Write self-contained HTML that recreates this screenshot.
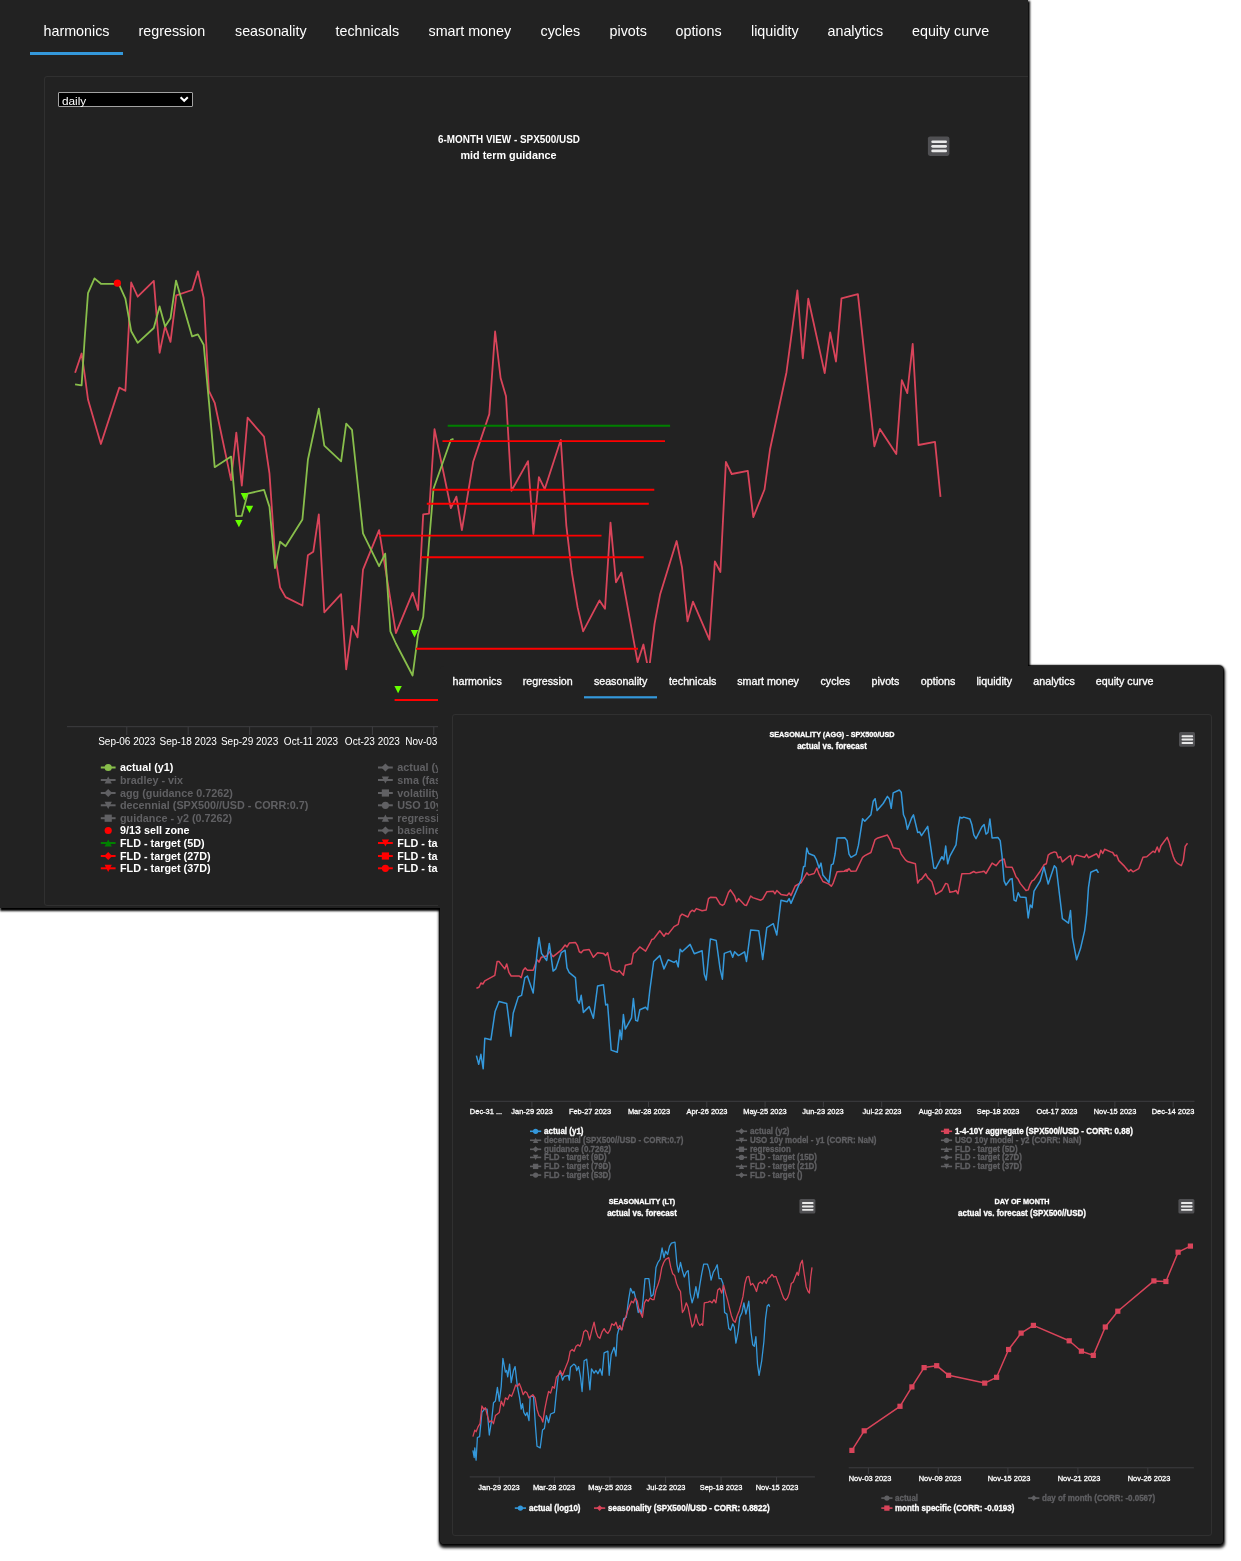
<!DOCTYPE html>
<html lang="en"><head><meta charset="utf-8"><title>seasonality dashboard</title>
<style>
html,body{margin:0;padding:0;background:#fff;}
body{width:1241px;height:1561px;position:relative;overflow:hidden;font-family:"Liberation Sans",Arial,sans-serif;}
.panel{position:absolute;overflow:hidden;background:#222;}
.sh{position:absolute;background:#222;}
.inner{position:absolute;border:1px solid #303030;border-radius:3px;box-sizing:border-box;}
.layer{position:absolute;left:0;top:0;width:1241px;height:1561px;}
.t{position:absolute;white-space:nowrap;}
svg{position:absolute;left:0;top:0;}
#A,#sA{left:0px;top:0px;width:1028px;height:907.5px;}
#sA{box-shadow:0.8px 2px 2px 1px #000;}
#B,#sB{left:440px;top:666px;width:783px;height:878px;border-radius:4px;}
#sB{box-shadow:0.3px 2.5px 3px 0.8px rgba(0,0,0,.92),0 0 1.5px 1px #000;}
#cov{position:absolute;left:438px;top:662.5px;width:590px;height:245px;background:#222;}
#B .layer{left:-440px;top:-666px;}
#B .t{-webkit-text-stroke:0.3px currentColor;}
.sel{position:absolute;left:58px;top:92px;width:135px;height:15px;box-sizing:border-box;background:#000;border:1px solid #a2a2a2;border-radius:1px;}
</style></head><body>
<div class="sh" id="sA"></div><div class="sh" id="sB"></div>
<div class="panel" id="A"><div class="layer">
<div class="inner" style="left:44px;top:76px;width:1000px;height:830px;"></div>
<div class="sel"></div>
<svg width="1241" height="1561" viewBox="0 0 1241 1561">
<rect x="30" y="52" width="93" height="3" fill="#3498db"/>
<path d="M180.6 97.2l3.6 3.6l3.6-3.6" fill="none" stroke="#fff" stroke-width="2"/>
<rect x="927.9" y="136.4" width="21.5" height="19.5" rx="2.15" fill="#505053"/><path d="M932.61 141.80H945.68" stroke="#e9e9e9" stroke-width="2.63" stroke-linecap="round"/><path d="M932.61 146.34H945.68" stroke="#e9e9e9" stroke-width="2.63" stroke-linecap="round"/><path d="M932.61 150.91H945.68" stroke="#e9e9e9" stroke-width="2.63" stroke-linecap="round"/>
<polyline points="75.1,372.8 81.6,353.5 84.8,375.4 88.0,399.5 100.9,444.0 119.3,387.6 125.4,390.8 131.2,282.5 137.7,296.7 153.8,280.9 159.6,352.8 165.1,326.4 170.5,341.9 176.3,295.4 192.1,290.0 197.9,271.3 203.7,298.0 208.9,390.8 214.7,402.8 231.1,480.1 236.3,432.7 241.8,485.6 247.6,417.6 264.0,436.6 269.5,473.7 275.0,554.3 280.1,587.5 285.6,597.1 302.4,605.5 307.9,555.2 313.3,551.7 318.8,514.3 324.3,612.3 341.1,594.2 346.2,669.3 352.0,625.8 357.5,637.4 363.0,569.7 379.1,530.1 395.9,633.2 412.6,592.9 418.1,610.0 423.2,514.3 429.0,513.7 434.5,429.2 450.9,508.2 456.4,496.6 461.9,530.1 473.2,461.8 489.3,414.1 495.1,331.5 500.6,378.0 506.0,396.3 511.5,490.8 528.0,461.1 533.4,534.0 538.9,477.2 544.7,489.2 560.8,439.8 566.3,525.3 571.8,572.0 577.6,607.4 583.1,631.3 599.5,600.4 605.0,608.7 610.5,522.7 616.0,582.3 621.4,572.6 637.6,662.2 643.4,644.5 648.8,671.9 654.6,623.6 660.1,594.6 676.6,541.0 682.0,567.2 687.5,621.3 693.0,601.6 709.4,639.7 714.9,561.4 720.4,572.0 725.9,461.8 731.7,474.0 747.8,470.8 753.3,517.2 764.5,489.5 770.0,449.5 786.5,372.2 797.4,290.3 802.8,358.3 808.3,298.7 824.7,373.1 830.2,332.5 836.0,361.5 841.5,298.3 857.9,294.1 874.4,446.3 879.9,428.9 896.3,454.0 901.8,380.2 907.3,393.1 912.7,343.8 918.5,445.0 935.0,441.8 940.5,496.9" fill="none" stroke="#d9445a" stroke-width="1.8" stroke-linejoin="round"/>
<polyline points="75.1,384.4 81.6,385.4 84.8,336.7 88.0,293.2 94.5,278.4 100.9,283.8 114.5,283.8 119.3,285.1 125.4,298.7 131.2,331.2 137.7,342.8 153.8,328.0 159.6,306.4 165.1,326.4 170.5,318.3 176.0,280.6 192.1,336.4 197.9,334.4 203.7,344.8 208.9,401.2 214.7,467.2 231.1,456.6 236.3,516.2 241.8,515.9 247.6,493.7 264.0,489.8 269.5,506.9 275.0,568.1 280.1,541.7 285.6,546.2 302.4,519.5 307.9,459.8 318.8,408.6 324.3,445.6 341.1,461.4 346.2,423.7 352.0,429.8 363.0,533.3 379.1,566.2 385.2,553.6 390.4,631.3 395.9,643.5 412.6,675.5 418.0,634.8 423.2,617.1 429.0,543.0 433.5,488.8 450.9,439.8 453.5,438.9" fill="none" stroke="#88be4b" stroke-width="1.8" stroke-linejoin="round"/>
<path d="M447.7 425.7H670.1" stroke="#008000" stroke-width="1.9"/>
<path d="M442.5 441.1H665" stroke="#ff0000" stroke-width="1.9"/>
<path d="M432.2 489.8H654.3" stroke="#ff0000" stroke-width="1.9"/>
<path d="M426.8 503.7H648.8" stroke="#ff0000" stroke-width="1.9"/>
<path d="M379 535.6H601.5" stroke="#ff0000" stroke-width="1.9"/>
<path d="M421.3 557.2H643.7" stroke="#ff0000" stroke-width="1.9"/>
<path d="M416 648.7H638" stroke="#ff0000" stroke-width="1.9"/>
<path d="M394.6 700H438" stroke="#ff0000" stroke-width="1.9"/>
<path d="M240.70000000000002 493.1L248.1 493.1L244.4 500.5Z" fill="#66ff00"/>
<path d="M245.8 505.7L253.2 505.7L249.5 513.1Z" fill="#66ff00"/>
<path d="M235.20000000000002 519.9L242.6 519.9L238.9 527.3000000000001Z" fill="#66ff00"/>
<path d="M410.8 630.0999999999999L418.2 630.0999999999999L414.5 637.5Z" fill="#66ff00"/>
<path d="M394.40000000000003 685.9L401.8 685.9L398.1 693.3000000000001Z" fill="#66ff00"/>
<circle cx="117.4" cy="283.2" r="3.6" fill="#ff0000"/>
<path d="M67 726.7H1010" stroke="#3e3e41" stroke-width="1"/>
<path d="M126.8 726.7V735" stroke="#3e3e41" stroke-width="1"/>
<path d="M188.2 726.7V735" stroke="#3e3e41" stroke-width="1"/>
<path d="M249.6 726.7V735" stroke="#3e3e41" stroke-width="1"/>
<path d="M311.0 726.7V735" stroke="#3e3e41" stroke-width="1"/>
<path d="M372.4 726.7V735" stroke="#3e3e41" stroke-width="1"/>
<path d="M433.8 726.7V735" stroke="#3e3e41" stroke-width="1"/>
<path d="M495.2 726.7V735" stroke="#3e3e41" stroke-width="1"/>
<path d="M100.8 767.5H115.6" stroke="#88be4b" stroke-width="2"/><circle cx="108.2" cy="767.5" r="3.6" fill="#88be4b"/>
<path d="M100.8 780H115.6" stroke="#606063" stroke-width="2"/><path d="M108.2 776.4L111.8 783.6L104.60000000000001 783.6Z" fill="#606063"/>
<path d="M100.8 793H115.6" stroke="#606063" stroke-width="2"/><path d="M108.2 788.968L112.232 793L108.2 797.032L104.168 793Z" fill="#606063"/>
<path d="M100.8 805.3H115.6" stroke="#606063" stroke-width="2"/><path d="M104.60000000000001 801.6999999999999L111.8 801.6999999999999L108.2 808.9Z" fill="#606063"/>
<path d="M100.8 818.2H115.6" stroke="#606063" stroke-width="2"/><rect x="104.60000000000001" y="814.6" width="7.2" height="7.2" fill="#606063"/>
<circle cx="108.2" cy="830.5" r="3.6" fill="#ff0000"/>
<path d="M100.8 843H115.6" stroke="#008000" stroke-width="2"/><path d="M108.2 839.4L111.8 846.6L104.60000000000001 846.6Z" fill="#008000"/>
<path d="M100.8 856H115.6" stroke="#ff0000" stroke-width="2"/><path d="M108.2 851.968L112.232 856L108.2 860.032L104.168 856Z" fill="#ff0000"/>
<path d="M100.8 868.3H115.6" stroke="#ff0000" stroke-width="2"/><path d="M104.60000000000001 864.6999999999999L111.8 864.6999999999999L108.2 871.9Z" fill="#ff0000"/>
<path d="M378 767.5H392.8" stroke="#606063" stroke-width="2"/><path d="M385.4 763.468L389.43199999999996 767.5L385.4 771.532L381.368 767.5Z" fill="#606063"/>
<path d="M378 780H392.8" stroke="#606063" stroke-width="2"/><path d="M381.79999999999995 776.4L389.0 776.4L385.4 783.6Z" fill="#606063"/>
<path d="M378 793H392.8" stroke="#606063" stroke-width="2"/><rect x="381.79999999999995" y="789.4" width="7.2" height="7.2" fill="#606063"/>
<path d="M378 805.3H392.8" stroke="#606063" stroke-width="2"/><circle cx="385.4" cy="805.3" r="3.6" fill="#606063"/>
<path d="M378 818.2H392.8" stroke="#606063" stroke-width="2"/><path d="M385.4 814.6L389.0 821.8000000000001L381.79999999999995 821.8000000000001Z" fill="#606063"/>
<path d="M378 830.5H392.8" stroke="#606063" stroke-width="2"/><path d="M385.4 826.468L389.43199999999996 830.5L385.4 834.532L381.368 830.5Z" fill="#606063"/>
<path d="M378 843H392.8" stroke="#ff0000" stroke-width="2"/><path d="M381.79999999999995 839.4L389.0 839.4L385.4 846.6Z" fill="#ff0000"/>
<path d="M378 856H392.8" stroke="#ff0000" stroke-width="2"/><rect x="381.79999999999995" y="852.4" width="7.2" height="7.2" fill="#ff0000"/>
<path d="M378 868.3H392.8" stroke="#ff0000" stroke-width="2"/><circle cx="385.4" cy="868.3" r="3.6" fill="#ff0000"/>
</svg>
<div class="t" style="left:43.5px;top:21.5px;line-height:19px;font-size:14.3px;color:#fff;">harmonics</div>
<div class="t" style="left:138.5px;top:21.5px;line-height:19px;font-size:14.3px;color:#fff;">regression</div>
<div class="t" style="left:235px;top:21.5px;line-height:19px;font-size:14.3px;color:#fff;">seasonality</div>
<div class="t" style="left:335.5px;top:21.5px;line-height:19px;font-size:14.3px;color:#fff;">technicals</div>
<div class="t" style="left:428.5px;top:21.5px;line-height:19px;font-size:14.3px;color:#fff;">smart money</div>
<div class="t" style="left:540.5px;top:21.5px;line-height:19px;font-size:14.3px;color:#fff;">cycles</div>
<div class="t" style="left:609.5px;top:21.5px;line-height:19px;font-size:14.3px;color:#fff;">pivots</div>
<div class="t" style="left:675.5px;top:21.5px;line-height:19px;font-size:14.3px;color:#fff;">options</div>
<div class="t" style="left:751px;top:21.5px;line-height:19px;font-size:14.3px;color:#fff;">liquidity</div>
<div class="t" style="left:827.5px;top:21.5px;line-height:19px;font-size:14.3px;color:#fff;">analytics</div>
<div class="t" style="left:912px;top:21.5px;line-height:19px;font-size:14.3px;color:#fff;">equity curve</div>
<div class="t" style="left:62px;top:92.5px;line-height:16px;font-size:11.8px;color:#fff;">daily</div>
<div class="t" style="left:508.5px;top:132.0px;line-height:15px;font-size:10.65px;color:#fff;font-weight:bold;transform:translateX(-50%) scaleX(0.93);">6-MONTH VIEW - SPX500/USD</div>
<div class="t" style="left:508.5px;top:148.0px;line-height:15px;font-size:10.8px;color:#fff;font-weight:bold;transform:translateX(-50%);">mid term guidance</div>
<div class="t" style="left:126.8px;top:734.5px;line-height:14px;font-size:10.0px;color:#fff;transform:translateX(-50%);">Sep-06 2023</div>
<div class="t" style="left:188.2px;top:734.5px;line-height:14px;font-size:10.0px;color:#fff;transform:translateX(-50%);">Sep-18 2023</div>
<div class="t" style="left:249.6px;top:734.5px;line-height:14px;font-size:10.0px;color:#fff;transform:translateX(-50%);">Sep-29 2023</div>
<div class="t" style="left:311.0px;top:734.5px;line-height:14px;font-size:10.0px;color:#fff;transform:translateX(-50%);">Oct-11 2023</div>
<div class="t" style="left:372.4px;top:734.5px;line-height:14px;font-size:10.0px;color:#fff;transform:translateX(-50%);">Oct-23 2023</div>
<div class="t" style="left:433.8px;top:734.5px;line-height:14px;font-size:10.0px;color:#fff;transform:translateX(-50%);">Nov-03 2023</div>
<div class="t" style="left:495.2px;top:734.5px;line-height:14px;font-size:10.0px;color:#fff;transform:translateX(-50%);">Nov-15 2023</div>
<div class="t" style="left:120px;top:760.0px;line-height:15px;font-size:10.8px;color:#fff;font-weight:bold;">actual (y1)</div>
<div class="t" style="left:120px;top:772.5px;line-height:15px;font-size:10.8px;color:#606063;font-weight:bold;">bradley - vix</div>
<div class="t" style="left:120px;top:785.5px;line-height:15px;font-size:10.8px;color:#606063;font-weight:bold;">agg (guidance 0.7262)</div>
<div class="t" style="left:120px;top:797.8px;line-height:15px;font-size:10.8px;color:#606063;font-weight:bold;">decennial (SPX500//USD - CORR:0.7)</div>
<div class="t" style="left:120px;top:810.7px;line-height:15px;font-size:10.8px;color:#606063;font-weight:bold;">guidance - y2 (0.7262)</div>
<div class="t" style="left:120px;top:823.0px;line-height:15px;font-size:10.8px;color:#fff;font-weight:bold;">9/13 sell zone</div>
<div class="t" style="left:120px;top:835.5px;line-height:15px;font-size:10.8px;color:#fff;font-weight:bold;">FLD - target (5D)</div>
<div class="t" style="left:120px;top:848.5px;line-height:15px;font-size:10.8px;color:#fff;font-weight:bold;">FLD - target (27D)</div>
<div class="t" style="left:120px;top:860.8px;line-height:15px;font-size:10.8px;color:#fff;font-weight:bold;">FLD - target (37D)</div>
<div class="t" style="left:397.3px;top:760.0px;line-height:15px;font-size:10.8px;color:#606063;font-weight:bold;">actual (y2)</div>
<div class="t" style="left:397.3px;top:772.5px;line-height:15px;font-size:10.8px;color:#606063;font-weight:bold;">sma (fast)</div>
<div class="t" style="left:397.3px;top:785.5px;line-height:15px;font-size:10.8px;color:#606063;font-weight:bold;">volatility</div>
<div class="t" style="left:397.3px;top:797.8px;line-height:15px;font-size:10.8px;color:#606063;font-weight:bold;">USO 10y model</div>
<div class="t" style="left:397.3px;top:810.7px;line-height:15px;font-size:10.8px;color:#606063;font-weight:bold;">regression</div>
<div class="t" style="left:397.3px;top:823.0px;line-height:15px;font-size:10.8px;color:#606063;font-weight:bold;">baseline</div>
<div class="t" style="left:397.3px;top:835.5px;line-height:15px;font-size:10.8px;color:#fff;font-weight:bold;">FLD - target (9D)</div>
<div class="t" style="left:397.3px;top:848.5px;line-height:15px;font-size:10.8px;color:#fff;font-weight:bold;">FLD - target (15D)</div>
<div class="t" style="left:397.3px;top:860.8px;line-height:15px;font-size:10.8px;color:#fff;font-weight:bold;">FLD - target (21D)</div>
</div></div>
<div id="cov"></div>
<div class="panel" id="B"><div class="layer">
<div class="inner" style="left:452px;top:714px;width:760px;height:822px;"></div>
<svg width="1241" height="1561" viewBox="0 0 1241 1561">
<rect x="584" y="696.2" width="73" height="2.2" fill="#3498db"/>
<rect x="1179" y="732.1" width="16" height="14.6" rx="1.61" fill="#505053"/><path d="M1182.51 736.14H1192.22" stroke="#e9e9e9" stroke-width="1.97" stroke-linecap="round"/><path d="M1182.51 739.55H1192.22" stroke="#e9e9e9" stroke-width="1.97" stroke-linecap="round"/><path d="M1182.51 742.96H1192.22" stroke="#e9e9e9" stroke-width="1.97" stroke-linecap="round"/>
<polyline points="476.4,988.2 479.0,987.2 480.9,983.0 482.9,984.0 484.8,980.8 494.8,975.3 497.1,961.5 499.0,961.5 504.8,968.9 506.7,964.0 509.0,972.7 511.2,976.0 519.3,976.0 521.2,977.6 523.2,970.2 525.1,967.9 527.4,970.2 533.2,970.2 537.0,959.8 539.0,962.1 541.2,957.3 546.7,956.0 549.3,951.8 553.1,956.6 561.2,950.2 565.1,945.0 567.0,946.9 569.3,943.1 575.4,942.4 577.3,945.3 579.3,951.8 581.2,952.7 583.4,950.2 589.2,949.5 593.4,957.3 597.6,952.7 603.4,953.4 605.7,955.6 607.6,952.7 611.2,969.5 617.3,972.1 619.2,970.5 623.4,975.3 625.3,965.3 631.5,963.7 633.4,953.4 635.7,951.8 639.8,946.9 645.6,951.1 649.8,943.7 651.8,939.5 653.7,938.9 659.8,930.8 664.0,936.3 666.0,933.1 668.2,934.1 674.0,926.6 678.2,924.4 680.1,916.3 682.1,914.1 687.9,917.0 690.1,912.1 692.1,910.2 694.3,911.5 696.3,908.6 702.1,910.8 706.2,909.9 708.5,898.6 710.4,897.3 716.2,897.6 720.1,904.1 722.4,905.4 724.3,904.1 728.5,892.5 730.4,889.9 734.6,896.0 736.5,901.8 738.5,898.6 744.6,905.0 746.5,905.4 750.7,896.0 752.7,897.6 760.7,900.2 762.7,899.2 766.8,891.8 773.3,891.2 774.9,893.8 776.8,890.5 781.0,894.4 787.1,895.4 789.1,893.1 791.0,895.4 795.2,886.0 801.3,882.5 806.8,872.8 808.7,875.1 814.2,873.5 816.8,868.0 819.1,874.4 822.9,881.5 829.0,884.1 831.3,886.3 833.2,883.1 837.1,871.8 844.8,871.2 849.0,868.9 844.8,870.6 847.1,871.2 849.0,868.6 851.0,871.2 856.1,870.9 862.6,857.3 864.8,855.7 870.9,852.5 875.1,839.6 877.1,838.3 885.1,835.7 887.4,835.1 889.3,838.3 891.2,842.2 893.2,847.7 899.3,849.0 901.2,854.1 905.4,859.9 907.4,861.5 915.4,863.8 917.7,883.1 919.6,879.9 921.5,879.3 925.7,873.8 927.7,877.6 931.9,881.8 933.8,888.0 935.7,894.4 941.9,890.5 945.7,883.4 947.7,884.1 949.9,892.2 953.8,891.5 956.0,890.5 958.0,893.8 961.8,873.8 969.9,873.5 973.8,871.5 976.0,872.8 981.8,871.8 984.1,871.2 986.0,873.5 992.1,863.1 996.0,865.7 1000.2,860.6 1004.1,859.0 1006.0,867.0 1012.1,867.3 1014.1,871.8 1016.0,876.7 1018.2,879.3 1020.2,883.4 1026.0,890.5 1028.2,889.9 1030.2,884.1 1032.1,880.9 1034.0,879.9 1040.2,871.2 1044.0,864.8 1046.3,863.8 1048.2,855.1 1050.2,853.5 1054.3,851.9 1056.3,852.5 1058.2,857.7 1060.5,856.7 1062.4,861.9 1068.5,856.7 1070.5,855.7 1072.4,864.8 1074.6,856.7 1076.6,855.1 1084.6,857.3 1086.6,854.4 1088.5,857.7 1096.6,853.8 1098.8,857.7 1100.8,850.2 1102.7,853.5 1104.6,849.3 1110.7,851.9 1112.7,852.5 1114.6,855.7 1116.6,855.1 1118.8,860.6 1124.6,866.4 1128.8,871.5 1130.7,869.6 1133.0,871.8 1138.8,868.6 1143.0,857.3 1146.8,856.7 1153.0,851.2 1154.9,852.5 1157.2,847.0 1159.1,851.9 1161.0,845.7 1167.2,837.4 1169.1,842.2 1171.3,850.2 1173.3,856.7 1175.2,860.9 1177.1,863.1 1181.3,865.7 1183.3,860.6 1185.2,846.4 1187.5,843.2" fill="none" stroke="#d9445a" stroke-width="1.5" stroke-linejoin="round"/>
<polyline points="476.4,1055.6 478.7,1064.3 480.9,1054.3 483.2,1068.8 484.8,1038.2 490.9,1039.8 495.1,1011.4 499.0,1001.4 506.7,1003.4 510.9,1036.2 513.2,1013.3 518.3,996.9 521.6,995.3 524.8,977.9 527.4,976.0 533.2,993.0 537.0,953.4 539.0,937.6 541.5,953.4 546.7,960.5 549.3,943.4 553.1,971.1 555.7,968.9 561.2,952.7 565.1,950.2 567.0,967.9 569.3,972.7 575.4,977.6 577.3,1000.1 579.3,1003.4 581.2,995.3 583.4,1012.4 589.2,1006.6 593.4,1018.2 597.6,985.9 603.4,984.7 605.7,1005.0 607.6,1004.3 611.2,1050.1 617.3,1052.3 619.9,1030.1 621.5,1039.5 623.4,1014.6 625.3,1029.1 631.5,1017.9 633.4,998.5 635.7,1020.4 637.6,1021.1 639.8,1009.8 645.6,1007.2 647.6,1009.8 649.8,990.5 653.7,961.5 659.8,955.6 664.0,968.9 668.2,959.8 674.0,962.4 676.3,960.8 678.2,966.9 680.1,949.2 682.1,951.8 690.1,944.4 694.3,953.7 702.1,950.8 704.3,974.3 706.2,980.1 710.4,938.9 716.2,940.5 720.1,968.9 722.4,979.2 724.3,953.4 730.4,951.1 732.7,957.3 734.6,951.8 738.5,955.6 744.6,951.8 746.5,961.5 750.7,929.9 758.8,930.8 762.7,959.5 766.8,927.6 773.3,923.7 776.8,935.0 781.0,900.2 787.1,901.8 789.1,898.6 791.0,903.4 801.3,879.3 803.6,866.4 804.9,866.4 806.8,848.0 808.7,853.5 814.2,855.7 816.5,859.9 819.1,868.0 821.0,863.1 822.9,875.1 829.0,882.5 831.3,864.8 833.2,863.8 835.2,853.5 837.1,838.0 844.8,837.7 847.1,840.6 849.0,854.1 851.0,857.3 856.1,854.4 858.4,845.4 862.6,818.7 864.8,821.2 870.9,814.8 873.2,801.3 875.1,798.7 877.1,810.6 883.2,803.5 887.4,796.4 889.3,798.7 891.2,808.3 893.2,792.9 899.3,790.0 901.2,792.2 903.5,814.8 905.4,819.0 907.4,829.3 911.6,818.0 913.5,814.8 917.7,832.5 919.6,831.9 921.5,835.7 927.7,826.4 933.8,868.0 935.7,868.6 941.9,856.7 943.8,859.9 945.7,846.1 947.7,863.8 949.9,856.1 956.0,844.8 958.0,827.7 959.9,817.1 961.8,818.0 963.8,817.1 969.9,819.0 971.8,824.5 973.8,834.8 976.0,838.6 981.8,827.0 984.1,824.5 986.0,834.1 987.9,832.5 989.9,819.0 992.1,838.0 997.9,837.4 1000.2,840.6 1002.1,856.7 1004.1,880.9 1006.0,885.1 1010.2,879.3 1012.1,878.6 1014.1,900.2 1016.0,901.2 1018.2,892.8 1020.2,897.0 1026.0,897.6 1028.2,917.9 1030.2,905.0 1032.1,907.6 1034.0,891.2 1040.2,880.9 1044.0,867.0 1048.2,884.1 1054.3,865.7 1056.3,868.0 1062.4,918.6 1068.5,923.1 1070.5,910.5 1072.4,937.3 1076.6,959.8 1080.5,948.6 1084.6,930.8 1086.6,914.7 1088.5,887.3 1090.8,872.2 1096.6,869.6 1097.9,872.2 1098.8,872.2" fill="none" stroke="#3498db" stroke-width="1.5" stroke-linejoin="round"/>
<path d="M470 1101.3H1194.5" stroke="#3e3e41" stroke-width="1"/>
<path d="M531.9 1101.3V1107" stroke="#3e3e41" stroke-width="1"/>
<path d="M590.2 1101.3V1107" stroke="#3e3e41" stroke-width="1"/>
<path d="M648.5 1101.3V1107" stroke="#3e3e41" stroke-width="1"/>
<path d="M706.8 1101.3V1107" stroke="#3e3e41" stroke-width="1"/>
<path d="M765.1 1101.3V1107" stroke="#3e3e41" stroke-width="1"/>
<path d="M823.4 1101.3V1107" stroke="#3e3e41" stroke-width="1"/>
<path d="M881.7 1101.3V1107" stroke="#3e3e41" stroke-width="1"/>
<path d="M940.0 1101.3V1107" stroke="#3e3e41" stroke-width="1"/>
<path d="M998.3 1101.3V1107" stroke="#3e3e41" stroke-width="1"/>
<path d="M1056.6 1101.3V1107" stroke="#3e3e41" stroke-width="1"/>
<path d="M1114.9 1101.3V1107" stroke="#3e3e41" stroke-width="1"/>
<path d="M1173.2 1101.3V1107" stroke="#3e3e41" stroke-width="1"/>
<path d="M530 1131.3H541.2" stroke="#3498db" stroke-width="1.6"/><circle cx="535.6" cy="1131.3" r="2.65" fill="#3498db"/>
<path d="M530 1140.3H541.2" stroke="#606063" stroke-width="1.6"/><path d="M535.6 1137.6499999999999L538.25 1142.95L532.95 1142.95Z" fill="#606063"/>
<path d="M530 1149.3H541.2" stroke="#606063" stroke-width="1.6"/><path d="M535.6 1146.3319999999999L538.568 1149.3L535.6 1152.268L532.6320000000001 1149.3Z" fill="#606063"/>
<path d="M530 1157.4H541.2" stroke="#606063" stroke-width="1.6"/><path d="M532.95 1154.75L538.25 1154.75L535.6 1160.0500000000002Z" fill="#606063"/>
<path d="M530 1166.4H541.2" stroke="#606063" stroke-width="1.6"/><rect x="532.95" y="1163.75" width="5.3" height="5.3" fill="#606063"/>
<path d="M530 1175.1H541.2" stroke="#606063" stroke-width="1.6"/><circle cx="535.6" cy="1175.1" r="2.65" fill="#606063"/>
<path d="M735.9 1131.3H747.1" stroke="#606063" stroke-width="1.6"/><path d="M741.5 1128.3319999999999L744.468 1131.3L741.5 1134.268L738.532 1131.3Z" fill="#606063"/>
<path d="M735.9 1140.3H747.1" stroke="#606063" stroke-width="1.6"/><path d="M738.85 1137.6499999999999L744.15 1137.6499999999999L741.5 1142.95Z" fill="#606063"/>
<path d="M735.9 1149.3H747.1" stroke="#606063" stroke-width="1.6"/><rect x="738.85" y="1146.6499999999999" width="5.3" height="5.3" fill="#606063"/>
<path d="M735.9 1157.4H747.1" stroke="#606063" stroke-width="1.6"/><circle cx="741.5" cy="1157.4" r="2.65" fill="#606063"/>
<path d="M735.9 1166.4H747.1" stroke="#606063" stroke-width="1.6"/><path d="M741.5 1163.75L744.15 1169.0500000000002L738.85 1169.0500000000002Z" fill="#606063"/>
<path d="M735.9 1175.1H747.1" stroke="#606063" stroke-width="1.6"/><path d="M741.5 1172.1319999999998L744.468 1175.1L741.5 1178.068L738.532 1175.1Z" fill="#606063"/>
<path d="M940.9 1131.3H952.1" stroke="#d9445a" stroke-width="1.6"/><rect x="943.85" y="1128.6499999999999" width="5.3" height="5.3" fill="#d9445a"/>
<path d="M940.9 1140.3H952.1" stroke="#606063" stroke-width="1.6"/><circle cx="946.5" cy="1140.3" r="2.65" fill="#606063"/>
<path d="M940.9 1149.3H952.1" stroke="#606063" stroke-width="1.6"/><path d="M946.5 1146.6499999999999L949.15 1151.95L943.85 1151.95Z" fill="#606063"/>
<path d="M940.9 1157.4H952.1" stroke="#606063" stroke-width="1.6"/><path d="M946.5 1154.432L949.468 1157.4L946.5 1160.3680000000002L943.532 1157.4Z" fill="#606063"/>
<path d="M940.9 1166.4H952.1" stroke="#606063" stroke-width="1.6"/><path d="M943.85 1163.75L949.15 1163.75L946.5 1169.0500000000002Z" fill="#606063"/>
<rect x="799.4" y="1199" width="16" height="14.6" rx="1.61" fill="#505053"/><path d="M802.91 1203.04H812.62" stroke="#e9e9e9" stroke-width="1.97" stroke-linecap="round"/><path d="M802.91 1206.45H812.62" stroke="#e9e9e9" stroke-width="1.97" stroke-linecap="round"/><path d="M802.91 1209.86H812.62" stroke="#e9e9e9" stroke-width="1.97" stroke-linecap="round"/>
<polyline points="472.9,1450.4 474.2,1457.5 474.8,1447.9 476.1,1460.1 477.4,1437.5 479.6,1436.6 481.9,1412.4 484.5,1409.2 487.1,1409.2 489.3,1435.0 491.6,1420.5 493.5,1402.7 495.4,1401.1 497.4,1387.3 499.3,1401.1 501.2,1386.6 502.9,1358.3 505.4,1372.1 506.7,1370.5 507.7,1376.9 509.6,1364.1 511.2,1382.7 513.5,1370.5 515.1,1366.6 517.4,1386.6 519.6,1397.9 521.2,1409.2 522.5,1403.7 523.8,1412.4 525.7,1415.6 527.0,1412.4 529.0,1420.5 530.2,1396.3 533.5,1396.3 535.4,1425.3 537.0,1446.2 540.2,1447.9 542.5,1430.1 544.4,1428.5 546.4,1415.6 548.6,1422.7 550.6,1414.0 554.4,1412.4 556.0,1396.3 558.3,1375.3 560.5,1372.1 562.5,1380.2 564.4,1376.3 568.3,1375.3 569.3,1380.2 570.5,1367.3 573.8,1364.1 575.7,1365.7 576.7,1370.5 578.6,1366.6 580.5,1376.9 582.1,1391.5 584.1,1360.8 586.7,1359.2 588.3,1373.7 589.9,1389.8 591.5,1368.9 594.1,1373.1 596.0,1370.5 597.9,1373.7 600.2,1368.9 602.1,1375.3 604.1,1352.8 607.9,1351.2 609.2,1375.3 611.2,1354.4 614.1,1347.3 616.0,1356.0 617.3,1335.0 618.9,1328.6 622.1,1329.2 623.7,1318.9 626.3,1317.3 628.6,1299.6 630.5,1288.3 632.7,1293.1 634.0,1291.5 636.0,1299.6 638.2,1312.5 639.8,1309.3 641.5,1314.1 643.1,1299.6 645.0,1278.6 648.9,1278.6 651.1,1296.4 653.1,1294.8 654.3,1286.7 656.0,1267.4 657.9,1262.5 660.1,1259.3 662.1,1248.0 664.0,1257.7 665.6,1251.2 667.6,1254.5 669.5,1246.4 671.4,1243.2 675.0,1242.2 676.9,1264.1 678.5,1272.2 680.5,1262.5 682.4,1270.6 684.3,1277.0 686.3,1272.2 688.2,1270.6 690.1,1293.1 692.1,1302.8 694.0,1296.4 695.9,1286.7 697.9,1298.0 699.8,1285.1 701.7,1273.8 703.7,1264.1 707.5,1264.1 709.5,1270.6 711.1,1280.2 713.3,1272.2 715.3,1269.0 717.2,1264.8 719.1,1278.6 721.1,1278.6 723.0,1283.5 724.6,1312.5 726.9,1314.1 728.8,1328.6 730.7,1330.2 732.7,1323.8 734.3,1327.0 735.9,1343.1 738.1,1331.8 739.8,1317.3 742.0,1312.5 743.9,1302.8 745.9,1314.1 748.8,1301.2 751.0,1331.8 752.7,1344.7 754.3,1346.3 755.9,1336.7 757.5,1364.1 759.1,1375.3 761.7,1360.8 763.9,1341.5 765.5,1318.9 767.2,1306.0 768.8,1304.4 769.7,1306.7" fill="none" stroke="#3498db" stroke-width="1.3" stroke-linejoin="round"/>
<polyline points="472.9,1436.6 474.8,1430.1 476.1,1431.7 478.0,1426.9 480.0,1423.7 481.9,1406.0 483.8,1409.2 485.4,1407.6 487.4,1415.6 489.3,1422.1 491.6,1420.5 493.5,1423.7 495.4,1415.6 497.4,1414.0 499.3,1412.4 501.2,1401.1 503.5,1406.0 505.4,1397.9 507.7,1399.5 509.6,1394.7 511.6,1396.3 513.5,1391.5 515.7,1385.0 517.4,1386.6 519.3,1383.4 521.2,1388.2 523.2,1394.7 525.1,1391.5 527.0,1393.1 529.0,1397.9 530.9,1396.3 532.8,1394.7 535.1,1397.9 537.0,1409.2 539.0,1415.6 540.9,1417.2 542.8,1422.1 544.8,1409.2 546.7,1399.5 548.6,1391.5 550.6,1393.1 552.5,1386.6 554.4,1388.2 556.4,1376.9 558.3,1375.3 560.2,1370.5 562.5,1375.3 564.4,1370.5 566.3,1365.7 568.3,1360.8 570.2,1351.2 572.2,1349.5 574.1,1351.2 576.0,1346.3 578.0,1344.7 579.9,1346.3 581.8,1341.5 583.8,1331.8 585.7,1330.2 587.6,1331.8 589.6,1339.9 591.5,1331.8 594.1,1322.2 596.0,1331.8 597.9,1336.7 599.9,1338.3 602.1,1331.8 604.1,1328.6 606.0,1331.8 607.9,1333.4 609.9,1330.2 611.8,1323.8 614.1,1325.4 616.0,1322.2 617.9,1328.6 619.9,1325.4 621.8,1330.2 623.7,1322.2 625.7,1317.3 627.6,1310.9 629.5,1306.0 631.5,1301.2 633.4,1302.8 635.3,1298.0 637.3,1301.2 639.2,1310.9 641.1,1314.1 642.4,1317.3 644.4,1302.8 646.3,1299.6 648.2,1301.2 650.2,1298.0 652.1,1299.6 654.0,1299.6 656.0,1289.9 657.9,1285.1 659.8,1278.6 661.8,1267.4 663.7,1262.5 665.6,1259.3 668.8,1257.7 670.8,1267.4 672.7,1273.8 674.6,1275.4 676.6,1283.5 678.5,1288.3 680.5,1291.5 682.4,1312.5 684.3,1309.3 686.3,1302.8 688.2,1307.6 690.1,1317.3 692.1,1327.0 694.0,1323.8 695.9,1314.1 697.9,1322.2 699.8,1325.4 701.7,1323.8 702.7,1325.4 704.3,1302.8 708.2,1302.2 710.1,1301.2 712.0,1302.8 714.0,1299.6 715.9,1302.8 717.8,1289.9 719.8,1288.3 721.7,1293.1 723.6,1285.1 725.6,1293.1 727.5,1299.6 729.4,1307.6 731.4,1315.7 733.3,1320.5 735.2,1322.2 737.2,1315.7 739.1,1310.9 741.0,1304.4 743.0,1296.4 744.9,1283.5 746.8,1277.0 748.8,1276.4 750.7,1285.1 752.7,1283.5 754.6,1286.7 756.5,1291.5 758.5,1283.5 760.4,1281.9 762.3,1283.5 764.3,1280.2 766.2,1283.5 768.1,1278.6 770.1,1277.0 772.0,1274.4 773.9,1277.0 775.9,1276.4 777.8,1281.9 779.7,1286.7 781.7,1293.1 783.6,1298.0 785.5,1300.2 787.5,1298.0 789.4,1293.1 791.3,1283.5 793.3,1281.9 795.2,1277.0 797.1,1272.2 798.4,1275.4 800.4,1264.1 802.3,1260.3 804.2,1273.8 806.2,1286.7 808.1,1291.5 809.4,1293.1 810.7,1277.0 812.0,1267.4" fill="none" stroke="#d9445a" stroke-width="1.3" stroke-linejoin="round"/>
<path d="M469.7 1476.9H814.9" stroke="#3e3e41" stroke-width="1"/>
<path d="M499.3 1476.9V1483" stroke="#3e3e41" stroke-width="1"/>
<path d="M554.4 1476.9V1483" stroke="#3e3e41" stroke-width="1"/>
<path d="M609.9 1476.9V1483" stroke="#3e3e41" stroke-width="1"/>
<path d="M665.6 1476.9V1483" stroke="#3e3e41" stroke-width="1"/>
<path d="M721.1 1476.9V1483" stroke="#3e3e41" stroke-width="1"/>
<path d="M776.5 1476.9V1483" stroke="#3e3e41" stroke-width="1"/>
<path d="M514.8 1508.1H526.0" stroke="#3498db" stroke-width="1.6"/><circle cx="520.4" cy="1508.1" r="2.65" fill="#3498db"/>
<path d="M594 1508.1H605.2" stroke="#d9445a" stroke-width="1.6"/><path d="M599.6 1505.1319999999998L602.568 1508.1L599.6 1511.068L596.6320000000001 1508.1Z" fill="#d9445a"/>
<rect x="1178.4" y="1199" width="16" height="14.6" rx="1.61" fill="#505053"/><path d="M1181.91 1203.04H1191.62" stroke="#e9e9e9" stroke-width="1.97" stroke-linecap="round"/><path d="M1181.91 1206.45H1191.62" stroke="#e9e9e9" stroke-width="1.97" stroke-linecap="round"/><path d="M1181.91 1209.86H1191.62" stroke="#e9e9e9" stroke-width="1.97" stroke-linecap="round"/>
<polyline points="851.9,1450.4 864.2,1430.8 900.0,1406.3 911.9,1386.9 924.1,1367.6 936.7,1365.7 948.6,1375.3 984.7,1383.1 996.6,1377.3 1008.6,1349.5 1021.1,1333.1 1033.4,1325.4 1069.2,1340.8 1081.4,1351.2 1093.3,1355.4 1105.3,1327.0 1117.8,1311.2 1153.9,1280.9 1165.9,1281.5 1178.1,1252.2 1190.4,1246.1" fill="none" stroke="#d9445a" stroke-width="1.5" stroke-linejoin="round"/>
<rect x="849.3" y="1447.8" width="5.2" height="5.2" fill="#d9445a"/>
<rect x="861.6" y="1428.2" width="5.2" height="5.2" fill="#d9445a"/>
<rect x="897.4" y="1403.7" width="5.2" height="5.2" fill="#d9445a"/>
<rect x="909.3" y="1384.3" width="5.2" height="5.2" fill="#d9445a"/>
<rect x="921.5" y="1365.0" width="5.2" height="5.2" fill="#d9445a"/>
<rect x="934.1" y="1363.1" width="5.2" height="5.2" fill="#d9445a"/>
<rect x="946.0" y="1372.7" width="5.2" height="5.2" fill="#d9445a"/>
<rect x="982.1" y="1380.5" width="5.2" height="5.2" fill="#d9445a"/>
<rect x="994.0" y="1374.7" width="5.2" height="5.2" fill="#d9445a"/>
<rect x="1006.0" y="1346.9" width="5.2" height="5.2" fill="#d9445a"/>
<rect x="1018.5" y="1330.5" width="5.2" height="5.2" fill="#d9445a"/>
<rect x="1030.8" y="1322.8" width="5.2" height="5.2" fill="#d9445a"/>
<rect x="1066.6" y="1338.2" width="5.2" height="5.2" fill="#d9445a"/>
<rect x="1078.8" y="1348.6" width="5.2" height="5.2" fill="#d9445a"/>
<rect x="1090.7" y="1352.8" width="5.2" height="5.2" fill="#d9445a"/>
<rect x="1102.7" y="1324.4" width="5.2" height="5.2" fill="#d9445a"/>
<rect x="1115.2" y="1308.6" width="5.2" height="5.2" fill="#d9445a"/>
<rect x="1151.3" y="1278.3" width="5.2" height="5.2" fill="#d9445a"/>
<rect x="1163.3" y="1278.9" width="5.2" height="5.2" fill="#d9445a"/>
<rect x="1175.5" y="1249.6" width="5.2" height="5.2" fill="#d9445a"/>
<rect x="1187.8" y="1243.5" width="5.2" height="5.2" fill="#d9445a"/>
<path d="M848.7 1467.8H1193.9" stroke="#3e3e41" stroke-width="1"/>
<path d="M868.4 1467.8V1474" stroke="#3e3e41" stroke-width="1"/>
<path d="M938.3 1467.8V1474" stroke="#3e3e41" stroke-width="1"/>
<path d="M1007.9 1467.8V1474" stroke="#3e3e41" stroke-width="1"/>
<path d="M1077.9 1467.8V1474" stroke="#3e3e41" stroke-width="1"/>
<path d="M1147.8 1467.8V1474" stroke="#3e3e41" stroke-width="1"/>
<path d="M881.3 1498.1H892.5" stroke="#606063" stroke-width="1.6"/><circle cx="886.9" cy="1498.1" r="2.65" fill="#606063"/>
<path d="M1028.2 1498.1H1039.4" stroke="#606063" stroke-width="1.6"/><path d="M1033.8 1495.1319999999998L1036.768 1498.1L1033.8 1501.068L1030.8319999999999 1498.1Z" fill="#606063"/>
<path d="M881.3 1508.1H892.5" stroke="#d9445a" stroke-width="1.6"/><rect x="884.25" y="1505.4499999999998" width="5.3" height="5.3" fill="#d9445a"/>
</svg>
<div class="t" style="left:452.5px;top:673.9px;line-height:15px;font-size:10.7px;color:#fff;">harmonics</div>
<div class="t" style="left:522.8px;top:673.9px;line-height:15px;font-size:10.7px;color:#fff;">regression</div>
<div class="t" style="left:593.9px;top:673.9px;line-height:15px;font-size:10.7px;color:#fff;">seasonality</div>
<div class="t" style="left:668.9px;top:673.9px;line-height:15px;font-size:10.7px;color:#fff;">technicals</div>
<div class="t" style="left:737.2px;top:673.9px;line-height:15px;font-size:10.7px;color:#fff;">smart money</div>
<div class="t" style="left:820.5px;top:673.9px;line-height:15px;font-size:10.7px;color:#fff;">cycles</div>
<div class="t" style="left:871.5px;top:673.9px;line-height:15px;font-size:10.7px;color:#fff;">pivots</div>
<div class="t" style="left:920.8px;top:673.9px;line-height:15px;font-size:10.7px;color:#fff;">options</div>
<div class="t" style="left:976.5px;top:673.9px;line-height:15px;font-size:10.7px;color:#fff;">liquidity</div>
<div class="t" style="left:1033.3px;top:673.9px;line-height:15px;font-size:10.7px;color:#fff;">analytics</div>
<div class="t" style="left:1095.8px;top:673.9px;line-height:15px;font-size:10.7px;color:#fff;">equity curve</div>
<div class="t" style="left:832px;top:728.5px;line-height:11px;font-size:7.69px;color:#fff;font-weight:bold;transform:translateX(-50%) scaleX(0.943);">SEASONALITY (AGG) - SPX500/USD</div>
<div class="t" style="left:832px;top:740.0px;line-height:12px;font-size:8.48px;color:#fff;font-weight:bold;transform:translateX(-50%) scaleX(0.943);">actual vs. forecast</div>
<div class="t" style="left:486.4px;top:1106.1px;line-height:11px;font-size:7.9px;color:#fff;transform:translateX(-50%) scaleX(0.943);">Dec-31 ...</div>
<div class="t" style="left:531.9px;top:1106.1px;line-height:11px;font-size:7.9px;color:#fff;transform:translateX(-50%) scaleX(0.943);">Jan-29 2023</div>
<div class="t" style="left:590.2px;top:1106.1px;line-height:11px;font-size:7.9px;color:#fff;transform:translateX(-50%) scaleX(0.943);">Feb-27 2023</div>
<div class="t" style="left:648.5px;top:1106.1px;line-height:11px;font-size:7.9px;color:#fff;transform:translateX(-50%) scaleX(0.943);">Mar-28 2023</div>
<div class="t" style="left:706.8px;top:1106.1px;line-height:11px;font-size:7.9px;color:#fff;transform:translateX(-50%) scaleX(0.943);">Apr-26 2023</div>
<div class="t" style="left:765.1px;top:1106.1px;line-height:11px;font-size:7.9px;color:#fff;transform:translateX(-50%) scaleX(0.943);">May-25 2023</div>
<div class="t" style="left:823.4px;top:1106.1px;line-height:11px;font-size:7.9px;color:#fff;transform:translateX(-50%) scaleX(0.943);">Jun-23 2023</div>
<div class="t" style="left:881.7px;top:1106.1px;line-height:11px;font-size:7.9px;color:#fff;transform:translateX(-50%) scaleX(0.943);">Jul-22 2023</div>
<div class="t" style="left:940.0px;top:1106.1px;line-height:11px;font-size:7.9px;color:#fff;transform:translateX(-50%) scaleX(0.943);">Aug-20 2023</div>
<div class="t" style="left:998.3px;top:1106.1px;line-height:11px;font-size:7.9px;color:#fff;transform:translateX(-50%) scaleX(0.943);">Sep-18 2023</div>
<div class="t" style="left:1056.6px;top:1106.1px;line-height:11px;font-size:7.9px;color:#fff;transform:translateX(-50%) scaleX(0.943);">Oct-17 2023</div>
<div class="t" style="left:1114.9px;top:1106.1px;line-height:11px;font-size:7.9px;color:#fff;transform:translateX(-50%) scaleX(0.943);">Nov-15 2023</div>
<div class="t" style="left:1173.2px;top:1106.1px;line-height:11px;font-size:7.9px;color:#fff;transform:translateX(-50%) scaleX(0.943);">Dec-14 2023</div>
<div class="t" style="left:544.4px;top:1125.3px;line-height:12px;font-size:8.48px;color:#fff;font-weight:bold;transform:scaleX(0.943);transform-origin:0 50%;">actual (y1)</div>
<div class="t" style="left:544.4px;top:1134.3px;line-height:12px;font-size:8.48px;color:#606063;font-weight:bold;transform:scaleX(0.943);transform-origin:0 50%;">decennial (SPX500//USD - CORR:0.7)</div>
<div class="t" style="left:544.4px;top:1143.3px;line-height:12px;font-size:8.48px;color:#606063;font-weight:bold;transform:scaleX(0.943);transform-origin:0 50%;">guidance (0.7262)</div>
<div class="t" style="left:544.4px;top:1151.4px;line-height:12px;font-size:8.48px;color:#606063;font-weight:bold;transform:scaleX(0.943);transform-origin:0 50%;">FLD - target (9D)</div>
<div class="t" style="left:544.4px;top:1160.4px;line-height:12px;font-size:8.48px;color:#606063;font-weight:bold;transform:scaleX(0.943);transform-origin:0 50%;">FLD - target (79D)</div>
<div class="t" style="left:544.4px;top:1169.1px;line-height:12px;font-size:8.48px;color:#606063;font-weight:bold;transform:scaleX(0.943);transform-origin:0 50%;">FLD - target (53D)</div>
<div class="t" style="left:749.8px;top:1125.3px;line-height:12px;font-size:8.48px;color:#606063;font-weight:bold;transform:scaleX(0.943);transform-origin:0 50%;">actual (y2)</div>
<div class="t" style="left:749.8px;top:1134.3px;line-height:12px;font-size:8.48px;color:#606063;font-weight:bold;transform:scaleX(0.943);transform-origin:0 50%;">USO 10y model - y1 (CORR: NaN)</div>
<div class="t" style="left:749.8px;top:1143.3px;line-height:12px;font-size:8.48px;color:#606063;font-weight:bold;transform:scaleX(0.943);transform-origin:0 50%;">regression</div>
<div class="t" style="left:749.8px;top:1151.4px;line-height:12px;font-size:8.48px;color:#606063;font-weight:bold;transform:scaleX(0.943);transform-origin:0 50%;">FLD - target (15D)</div>
<div class="t" style="left:749.8px;top:1160.4px;line-height:12px;font-size:8.48px;color:#606063;font-weight:bold;transform:scaleX(0.943);transform-origin:0 50%;">FLD - target (21D)</div>
<div class="t" style="left:749.8px;top:1169.1px;line-height:12px;font-size:8.48px;color:#606063;font-weight:bold;transform:scaleX(0.943);transform-origin:0 50%;">FLD - target ()</div>
<div class="t" style="left:955.4px;top:1125.3px;line-height:12px;font-size:8.48px;color:#fff;font-weight:bold;transform:scaleX(0.943);transform-origin:0 50%;">1-4-10Y aggregate (SPX500//USD - CORR: 0.88)</div>
<div class="t" style="left:955.4px;top:1134.3px;line-height:12px;font-size:8.48px;color:#606063;font-weight:bold;transform:scaleX(0.943);transform-origin:0 50%;">USO 10y model - y2 (CORR: NaN)</div>
<div class="t" style="left:955.4px;top:1143.3px;line-height:12px;font-size:8.48px;color:#606063;font-weight:bold;transform:scaleX(0.943);transform-origin:0 50%;">FLD - target (5D)</div>
<div class="t" style="left:955.4px;top:1151.4px;line-height:12px;font-size:8.48px;color:#606063;font-weight:bold;transform:scaleX(0.943);transform-origin:0 50%;">FLD - target (27D)</div>
<div class="t" style="left:955.4px;top:1160.4px;line-height:12px;font-size:8.48px;color:#606063;font-weight:bold;transform:scaleX(0.943);transform-origin:0 50%;">FLD - target (37D)</div>
<div class="t" style="left:642.4px;top:1196.1px;line-height:11px;font-size:7.69px;color:#fff;font-weight:bold;transform:translateX(-50%) scaleX(0.943);">SEASONALITY (LT)</div>
<div class="t" style="left:642.4px;top:1207.2px;line-height:12px;font-size:8.48px;color:#fff;font-weight:bold;transform:translateX(-50%) scaleX(0.943);">actual vs. forecast</div>
<div class="t" style="left:499.3px;top:1482.0px;line-height:11px;font-size:7.9px;color:#fff;transform:translateX(-50%) scaleX(0.943);">Jan-29 2023</div>
<div class="t" style="left:554.4px;top:1482.0px;line-height:11px;font-size:7.9px;color:#fff;transform:translateX(-50%) scaleX(0.943);">Mar-28 2023</div>
<div class="t" style="left:609.9px;top:1482.0px;line-height:11px;font-size:7.9px;color:#fff;transform:translateX(-50%) scaleX(0.943);">May-25 2023</div>
<div class="t" style="left:665.6px;top:1482.0px;line-height:11px;font-size:7.9px;color:#fff;transform:translateX(-50%) scaleX(0.943);">Jul-22 2023</div>
<div class="t" style="left:721.1px;top:1482.0px;line-height:11px;font-size:7.9px;color:#fff;transform:translateX(-50%) scaleX(0.943);">Sep-18 2023</div>
<div class="t" style="left:776.5px;top:1482.0px;line-height:11px;font-size:7.9px;color:#fff;transform:translateX(-50%) scaleX(0.943);">Nov-15 2023</div>
<div class="t" style="left:529px;top:1502.1px;line-height:12px;font-size:8.48px;color:#fff;font-weight:bold;transform:scaleX(0.943);transform-origin:0 50%;">actual (log10)</div>
<div class="t" style="left:608.3px;top:1502.1px;line-height:12px;font-size:8.48px;color:#fff;font-weight:bold;transform:scaleX(0.943);transform-origin:0 50%;">seasonality (SPX500//USD - CORR: 0.8822)</div>
<div class="t" style="left:1021.5px;top:1196.1px;line-height:11px;font-size:7.69px;color:#fff;font-weight:bold;transform:translateX(-50%) scaleX(0.943);">DAY OF MONTH</div>
<div class="t" style="left:1021.5px;top:1207.2px;line-height:12px;font-size:8.48px;color:#fff;font-weight:bold;transform:translateX(-50%) scaleX(0.943);">actual vs. forecast (SPX500//USD)</div>
<div class="t" style="left:869.6px;top:1473.0px;line-height:11px;font-size:7.9px;color:#fff;transform:translateX(-50%) scaleX(0.943);">Nov-03 2023</div>
<div class="t" style="left:939.5px;top:1473.0px;line-height:11px;font-size:7.9px;color:#fff;transform:translateX(-50%) scaleX(0.943);">Nov-09 2023</div>
<div class="t" style="left:1009.1px;top:1473.0px;line-height:11px;font-size:7.9px;color:#fff;transform:translateX(-50%) scaleX(0.943);">Nov-15 2023</div>
<div class="t" style="left:1079.1000000000001px;top:1473.0px;line-height:11px;font-size:7.9px;color:#fff;transform:translateX(-50%) scaleX(0.943);">Nov-21 2023</div>
<div class="t" style="left:1149.0px;top:1473.0px;line-height:11px;font-size:7.9px;color:#fff;transform:translateX(-50%) scaleX(0.943);">Nov-26 2023</div>
<div class="t" style="left:895.4px;top:1492.1px;line-height:12px;font-size:8.48px;color:#606063;font-weight:bold;transform:scaleX(0.943);transform-origin:0 50%;">actual</div>
<div class="t" style="left:1042.4px;top:1492.1px;line-height:12px;font-size:8.48px;color:#606063;font-weight:bold;transform:scaleX(0.943);transform-origin:0 50%;">day of month (CORR: -0.0567)</div>
<div class="t" style="left:895.4px;top:1502.1px;line-height:12px;font-size:8.48px;color:#fff;font-weight:bold;transform:scaleX(0.943);transform-origin:0 50%;">month specific (CORR: -0.0193)</div>
</div></div>
</body></html>
